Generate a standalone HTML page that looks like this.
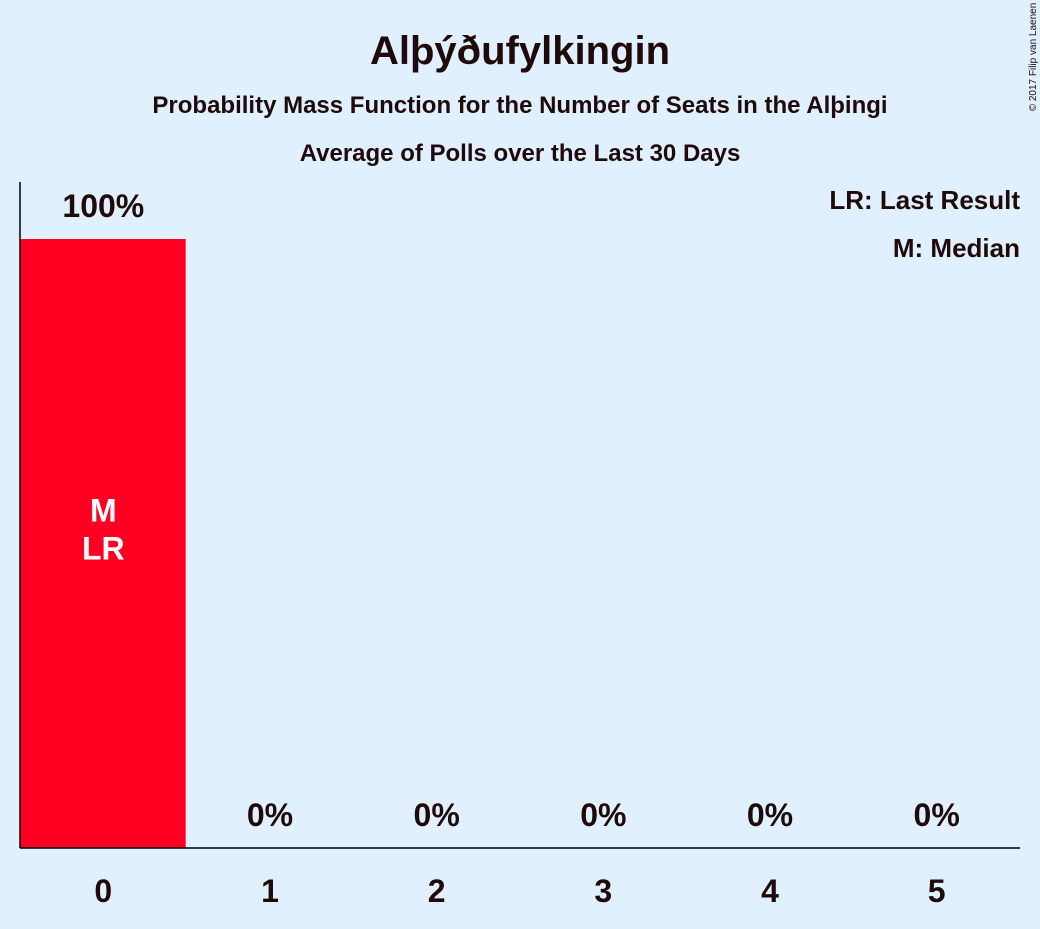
<!DOCTYPE html>
<html><head><meta charset="utf-8"><style>
body{margin:0;background:#e0f0ff;}
svg text{font-family:"Liberation Sans",sans-serif;fill:#1f0a0a;}
</style></head><body>
<svg width="1040" height="924" xmlns="http://www.w3.org/2000/svg">
<rect width="1040" height="924" fill="#e0f0ff"/>
<text x="520" y="64" text-anchor="middle" font-size="40" font-weight="bold">Alþýðufylkingin</text>
<text x="520" y="113" text-anchor="middle" font-size="24" font-weight="bold">Probability Mass Function for the Number of Seats in the Alþingi</text>
<text x="520" y="161" text-anchor="middle" font-size="24" font-weight="bold">Average of Polls over the Last 30 Days</text>
<text x="1020" y="209" text-anchor="end" font-size="26" font-weight="bold">LR: Last Result</text>
<text x="1020" y="257" text-anchor="end" font-size="26" font-weight="bold">M: Median</text>
<text transform="translate(1036,57) rotate(-90)" text-anchor="middle" font-size="10">© 2017 Filip van Laenen</text>
<g id="plot"></g>
<line x1="20" y1="182" x2="20" y2="848" stroke="#000" stroke-width="1.5"/>
<line x1="20" y1="848" x2="1020" y2="848" stroke="#000" stroke-width="1.5"/>
</svg>
<script>
const categories=[0,1,2,3,4,5];
const values=[100,0,0,0,0,0];
const valueLabels=["100%","0%","0%","0%","0%","0%"];
const medianIndex=0;
const lastResultIndex=0;
const left=20,right=1020,bottom=848,top100=239;
const band=(right-left)/categories.length;
const xC=i=>left+band*(i+0.5);
const y=v=>bottom-(bottom-top100)*v/100;
const g=document.getElementById('plot');
const NS='http://www.w3.org/2000/svg';
categories.forEach((c,i)=>{
  if(values[i]>0){
    const r=document.createElementNS(NS,'rect');
    r.setAttribute('x',xC(i)-band/2);r.setAttribute('y',y(values[i]));
    r.setAttribute('width',band-1);r.setAttribute('height',bottom-y(values[i]));
    r.setAttribute('fill','#ff0022');
    
    
    g.appendChild(r);
  }
  const t=document.createElementNS(NS,'text');
  t.setAttribute('x',xC(i));t.setAttribute('y',y(values[i])-22);
  t.setAttribute('text-anchor','middle');t.setAttribute('font-size','32');t.setAttribute('font-weight','bold');
  t.textContent=valueLabels[i];
  
  
  g.appendChild(t);
  const k=document.createElementNS(NS,'text');
  k.setAttribute('x',xC(i));k.setAttribute('y',902);
  k.setAttribute('text-anchor','middle');k.setAttribute('font-size','32');k.setAttribute('font-weight','bold');
  k.textContent=c;
  
  
  g.appendChild(k);
});
const mid=(y(values[medianIndex])+bottom)/2;
[['M',medianIndex,mid-22,'median-marker'],['LR',lastResultIndex,mid+16,'last-result-marker']].forEach(([s,i,yy,n])=>{
  const t=document.createElementNS(NS,'text');
  t.setAttribute('x',xC(i));t.setAttribute('y',yy);
  t.setAttribute('text-anchor','middle');t.setAttribute('font-size','32');t.setAttribute('font-weight','bold');
  t.setAttribute('style','fill:#fff');
  t.textContent=s;
  
  
  g.appendChild(t);
});
</script>
</body></html>
